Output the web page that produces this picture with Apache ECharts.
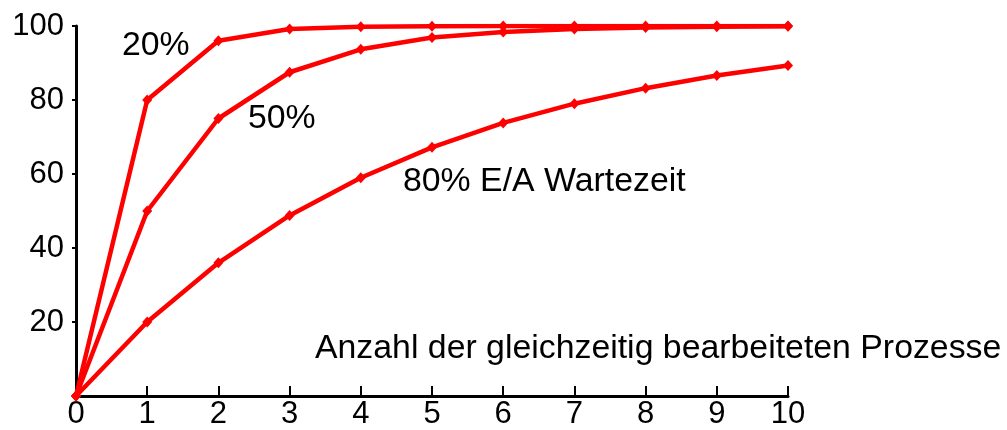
<!DOCTYPE html>
<html><head><meta charset="utf-8">
<script src="https://cdn.jsdelivr.net/npm/echarts@6/dist/echarts.min.js"></script>
<style>html,body{margin:0;padding:0;background:#fff}#c{width:1007px;height:430px}</style>
</head><body><div id="c"></div>
<script>
const xValues = [0,1,2,3,4,5,6,7,8,9,10];
const yTicks = [20,40,60,80,100];
const series20 = [0,80,96,99.2,99.8,99.9,100,100,100,100,100];
const series50 = [0,50,75,87.5,93.7,96.9,98.4,99.2,99.6,99.8,99.9];
const series80 = [0,20,36,48.8,59,67.2,73.8,79,83.2,86.6,89.3];
const seriesNames = ['20%','50%','80% E/A Wartezeit'];
const axisTitle = 'Anzahl der gleichzeitig bearbeiteten Prozesse';

const chart = echarts.init(document.getElementById('c'));
const font = 'Liberation Sans, Arial, sans-serif';
function mk(name, vals){
  return {name, type:'line', data: xValues.map((x,i)=>[x, vals[i]]),
    symbol:'diamond', symbolSize:[10,11], showSymbol:true,
    lineStyle:{color:'#ff0000', width:4.5}, itemStyle:{color:'#ff0000'},
    animation:false, z:3};
}
function txt(t, left, top){
  return {type:'text', left, top, scaleX:1.025,
    style:{text:t, fontSize:33, fontFamily:font, fill:'#000'}};
}
chart.setOption({
  animation:false,
  grid:{left:76, top:26, right:219, bottom:33, containLabel:false},
  xAxis:{type:'value', min:0, max:10, interval:1,
    axisLine:{lineStyle:{color:'#000', width:3}},
    axisTick:{inside:true, length:10, lineStyle:{color:'#000', width:2}},
    axisLabel:{color:'#000', fontSize:31, fontFamily:font, margin:3},
    splitLine:{show:false}},
  yAxis:{type:'value', min:0, max:100, interval:20,
    axisLine:{show:true, lineStyle:{color:'#000', width:3}},
    axisTick:{show:true, inside:false, length:4, lineStyle:{color:'#000', width:2}},
    axisLabel:{color:'#000', fontSize:31, fontFamily:font, margin:12,
      formatter:v=> (yTicks.includes(v) ? String(v) : '')},
    splitLine:{show:false}},
  series:[mk(seriesNames[0],series20), mk(seriesNames[1],series50), mk(seriesNames[2],series80)],
  graphic:[
    txt(seriesNames[0], 122, 29),
    txt(seriesNames[1], 248, 102),
    txt(seriesNames[2], 403, 165),
    txt(axisTitle, 315, 332)
  ]
});
</script></body></html>
